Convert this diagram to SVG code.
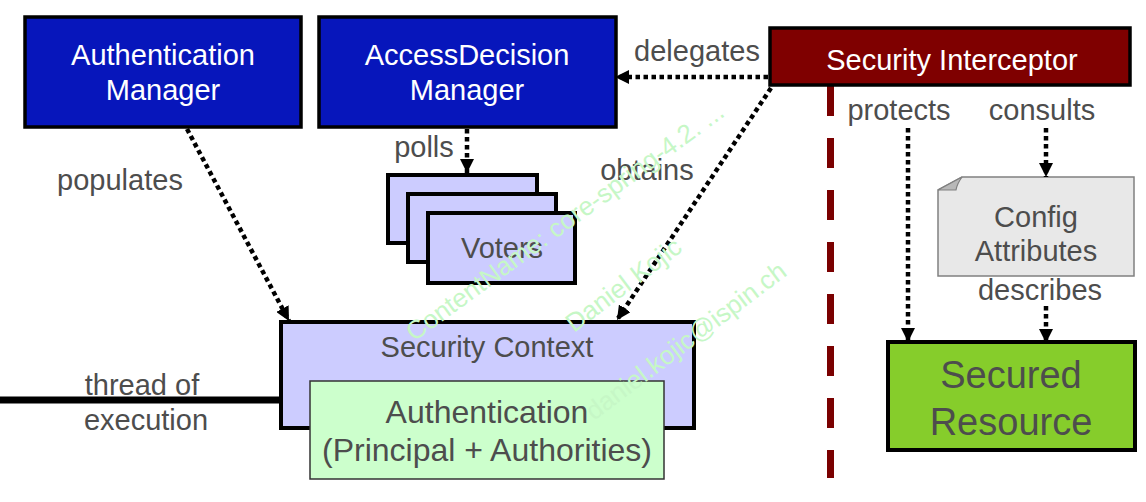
<svg xmlns="http://www.w3.org/2000/svg" width="1146" height="502" viewBox="0 0 1146 502">
  <style>
    text { font-family: "Liberation Sans", Arial, sans-serif; }
    .lbl { font-size: 29px; fill: #4d4d4d; text-anchor: middle; }
    .wt { font-size: 29px; fill: #ffffff; text-anchor: middle; }
    .blue { fill: #0716bb; stroke: #000; stroke-width: 3.5; }
    .lav { fill: #ccccff; stroke: #000; stroke-width: 4; }
    .dot { fill: none; stroke: #000; stroke-width: 4.5; stroke-dasharray: 4.5 3.5; marker-end: url(#ah); }
    .wm { font-size: 26px; fill: #c6f7c6; }
  </style>
  <defs>
    <marker id="ah" viewBox="0 0 14 14" refX="14" refY="7" markerWidth="14" markerHeight="14" markerUnits="userSpaceOnUse" orient="auto">
      <path d="M0,0 L14,7 L0,14 Z" fill="#000"/>
    </marker>
  </defs>

  <rect width="1146" height="502" fill="#ffffff"/>

  <!-- thread of execution -->
  <g id="thread">
    <line x1="0" y1="400" x2="282" y2="400" stroke="#000" stroke-width="7"/>
    <text class="lbl" x="142" y="395">thread of</text>
    <text class="lbl" x="146" y="430">execution</text>
  </g>

  <!-- separator -->
  <g id="separator">
    <line x1="830.5" y1="86" x2="830.5" y2="478" stroke="#7a0000" stroke-width="7" stroke-dasharray="30 22"/>
  </g>

  <g id="authManager">
    <rect class="blue" x="25" y="17" width="276" height="110"/>
    <text class="wt" x="163" y="65">Authentication</text>
    <text class="wt" x="163" y="100">Manager</text>
  </g>

  <g id="accessDecisionManager">
    <rect class="blue" x="319" y="17" width="297" height="110"/>
    <text class="wt" x="467" y="65">AccessDecision</text>
    <text class="wt" x="467" y="100">Manager</text>
  </g>

  <g id="securityInterceptor">
    <rect x="770" y="28" width="360" height="57" fill="#7f0000" stroke="#000" stroke-width="3.5"/>
    <text class="wt" x="952" y="70">Security Interceptor</text>
  </g>

  <g id="voters">
    <rect class="lav" x="388" y="175" width="149" height="68"/>
    <rect class="lav" x="408" y="194" width="148" height="68"/>
    <rect class="lav" x="428" y="213" width="147" height="70"/>
    <text class="lbl" x="502" y="258">Voters</text>
  </g>

  <g id="securityContext">
    <rect class="lav" x="281" y="322" width="413" height="106"/>
    <text class="lbl" x="487" y="357">Security Context</text>
  </g>

  <g id="authentication">
    <rect x="310" y="381" width="354" height="98" fill="#ccffcc" stroke="#333" stroke-width="1.5"/>
    <text class="lbl" x="487" y="423" style="font-size:32px">Authentication</text>
    <text class="lbl" x="487" y="461" style="font-size:32px">(Principal + Authorities)</text>
  </g>

  <g id="configAttributes">
    <path d="M938,190 L962,177 L1134,177 L1134,276 L938,276 Z" fill="#e8e8e8" stroke="#808080" stroke-width="1.5"/>
    <path d="M938,190 L962,177 Q957,184 956,190 Z" fill="#b8b8b8" stroke="#808080" stroke-width="1.2"/>
    <text class="lbl" x="1036" y="227">Config</text>
    <text class="lbl" x="1036" y="261">Attributes</text>
  </g>

  <g id="securedResource">
    <rect x="888" y="342" width="247" height="108" fill="#86cd2b" stroke="#000" stroke-width="4"/>
    <text class="lbl" x="1011" y="388" style="font-size:38px">Secured</text>
    <text class="lbl" x="1011" y="435" style="font-size:38px">Resource</text>
  </g>

  <g id="connectors">
    <line class="dot" x1="187" y1="129" x2="289" y2="321"/>
    <line class="dot" x1="467" y1="129" x2="467" y2="173"/>
    <line class="dot" x1="768" y1="77" x2="615" y2="77"/>
    <line class="dot" x1="771" y1="88" x2="617" y2="320"/>
    <line class="dot" x1="908" y1="128" x2="908" y2="342"/>
    <line class="dot" x1="1046" y1="128" x2="1046" y2="177"/>
    <line class="dot" x1="1046" y1="306" x2="1046" y2="343"/>
    <text class="lbl" x="120" y="190">populates</text>
    <text class="lbl" x="424" y="157">polls</text>
    <text class="lbl" x="697" y="61">delegates</text>
    <text class="lbl" x="647" y="180">obtains</text>
    <text class="lbl" x="899" y="120">protects</text>
    <text class="lbl" x="1042" y="120">consults</text>
    <text class="lbl" x="1040" y="300">describes</text>
  </g>

  <g id="watermark">
    <text class="wm" transform="translate(414,342) rotate(-36)">ContentName: core-spring-4.2. ...</text>
    <text class="wm" transform="translate(574,333) rotate(-37)">Daniel Kojic</text>
    <text class="wm" transform="translate(594,421) rotate(-37)">daniel.kojic@ispin.ch</text>
  </g>
</svg>
